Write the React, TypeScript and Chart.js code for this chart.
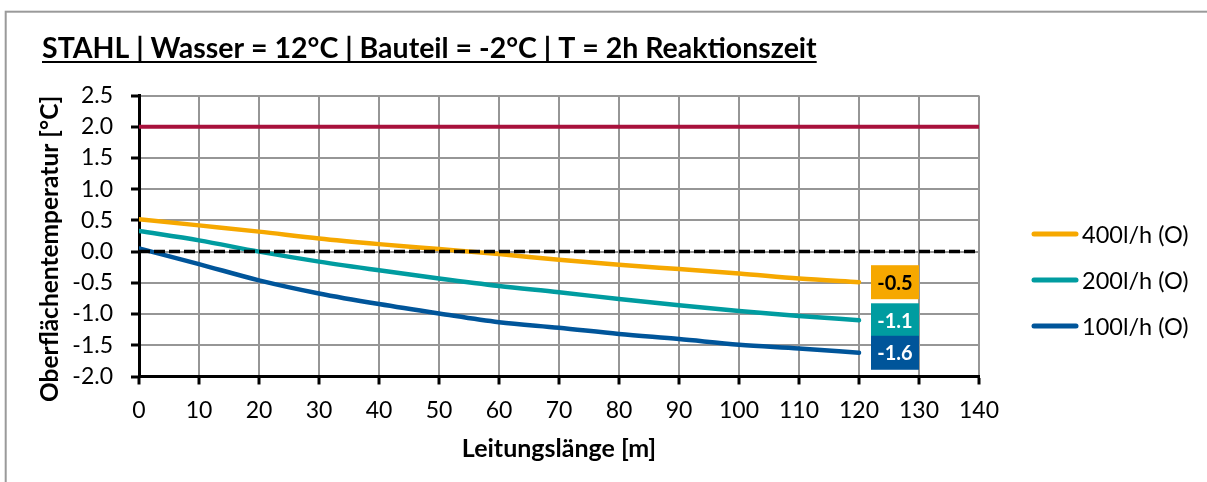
import { useEffect, useRef } from "react";
import { Chart, registerables } from "chart.js";

Chart.register(...registerables);

// ---- data ----
const lengths = [0, 10, 20, 30, 40, 50, 60, 70, 80, 90, 100, 110, 120];
const flow400 = [0.52, 0.42, 0.32, 0.21, 0.12, 0.04, -0.04, -0.13, -0.21, -0.28, -0.35, -0.43, -0.49];
const flow200 = [0.33, 0.18, 0.0, -0.16, -0.3, -0.43, -0.55, -0.65, -0.76, -0.86, -0.95, -1.03, -1.1];
const flow100 = [0.05, -0.2, -0.46, -0.67, -0.84, -0.99, -1.13, -1.22, -1.32, -1.4, -1.49, -1.55, -1.62];
const seriesNames = ["400l/h (O)", "200l/h (O)", "100l/h (O)"];
const limitX = [0, 140];
const limitY = [2.0, 2.0];
const zeroY = [0, 0];
const xMin = 0;
const xMax = 140;
const xStep = 10;
const yMin = -2.0;
const yMax = 2.5;
const yStep = 0.5;
const titleText = "STAHL | Wasser = 12°C | Bauteil = -2°C | T = 2h Reaktionszeit";
const xTitle = "Leitungslänge [m]";
const yTitle = "Oberflächentemperatur [°C]";

// ---- styles ----
const ORANGE = "#F6A800";
const TEAL = "#009CA0";
const BLUE = "#00559A";
const RED = "#A8113C";
const GRID = "#969696";
const FONT = "Lato";
const seriesColors = [ORANGE, TEAL, BLUE];
const labelTextColors = ["#000000", "#FFFFFF", "#FFFFFF"];

const pts = (xs: number[], ys: number[]) => xs.map((x, i) => ({ x, y: ys[i] }));

const decorPlugin = {
  id: "decor",
  beforeDraw(chart: any) {
    const ctx = chart.ctx;
    ctx.save();
    ctx.strokeStyle = "#9a9a9a";
    ctx.lineWidth = 2;
    ctx.strokeRect(5.7, 11.7, 3000, 3000);
    ctx.restore();
  },
  afterDraw(chart: any) {
    const ctx = chart.ctx;
    ctx.save();
    // title
    ctx.fillStyle = "#000";
    ctx.font = `bold 28.5px ${FONT}`;
    ctx.textAlign = "left";
    ctx.textBaseline = "alphabetic";
    ctx.fillText(titleText, 42, 58);
    const w = ctx.measureText(titleText).width;
    ctx.fillRect(42, 61, w, 2);

    // y axis title
    ctx.save();
    ctx.translate(50, 249);
    ctx.rotate(-Math.PI / 2);
    ctx.font = `bold 24.5px ${FONT}`;
    ctx.textAlign = "center";
    ctx.textBaseline = "middle";
    ctx.fillText(yTitle, 0, 0);
    ctx.restore();

    // legend
    ctx.font = `23.5px ${FONT}`;
    ctx.textAlign = "left";
    ctx.textBaseline = "middle";
    seriesNames.forEach((name, i) => {
      const y = 234 + i * 46;
      ctx.strokeStyle = seriesColors[i];
      ctx.lineWidth = 5;
      ctx.lineCap = "round";
      ctx.beginPath();
      ctx.moveTo(1034, y);
      ctx.lineTo(1076, y);
      ctx.stroke();
      ctx.fillStyle = "#000";
      ctx.fillText(name, 1082, y + 1);
    });

    // end-value labels
    ctx.font = `bold 20px ${FONT}`;
    ctx.textAlign = "center";
    ctx.textBaseline = "middle";
    chart.data.datasets.forEach((ds: any, di: number) => {
      if (ds.seriesIndex === undefined) return;
      const meta = chart.getDatasetMeta(di);
      const last = meta.data[meta.data.length - 1];
      const val = ds.data[ds.data.length - 1].y;
      const bx = last.x + 12;
      const by = last.y - 17;
      ctx.fillStyle = seriesColors[ds.seriesIndex];
      ctx.fillRect(bx, by, 48, 34);
      ctx.fillStyle = labelTextColors[ds.seriesIndex];
      ctx.fillText(val.toFixed(1), bx + 24, by + 18);
    });
    ctx.restore();
  },
};

export default function App() {
  const canvasRef = useRef<HTMLCanvasElement | null>(null);

  useEffect(() => {
    if (!canvasRef.current) return;
    Chart.defaults.font.family = FONT;
    Chart.defaults.color = "#000";
    const seriesData = [flow400, flow200, flow100];
    const chart = new Chart(canvasRef.current, {
      type: "line",
      data: {
        datasets: [
          {
            label: "zero",
            data: pts(limitX, zeroY),
            borderColor: "#000",
            borderWidth: 3.5,
            borderDash: [11, 4],
            pointRadius: 0,
          } as any,
          ...seriesData.map((ys, i) => ({
            label: seriesNames[i],
            seriesIndex: i,
            data: pts(lengths, ys),
            borderColor: seriesColors[i],
            borderWidth: 4.5,
            borderCapStyle: "round",
            pointRadius: 0,
            cubicInterpolationMode: "monotone",
          })),
          {
            label: "limit",
            data: pts(limitX, limitY),
            borderColor: RED,
            borderWidth: 4,
            pointRadius: 0,
          },
        ],
      },
      options: {
        animation: false,
        responsive: true,
        maintainAspectRatio: false,
        layout: { padding: { top: 95.5, left: 0, right: 228, bottom: 0 } },
        plugins: {
          legend: { display: false },
          tooltip: { enabled: false },
          title: { display: false },
        },
        scales: {
          x: {
            type: "linear",
            min: xMin,
            max: xMax,
            ticks: { stepSize: xStep, padding: 12, color: "#000", font: { size: 23 } },
            grid: { color: GRID, lineWidth: 2, tickColor: "#000", tickWidth: 3, tickLength: 8 },
            border: { color: "#000", width: 3 },
            title: {
              display: true,
              text: xTitle,
              color: "#000",
              font: { size: 25, weight: "bold" },
              padding: { top: 0, bottom: 18 },
            },
            afterFit: (s: any) => {
              s.height = 105.5;
            },
          },
          y: {
            type: "linear",
            min: yMin,
            max: yMax,
            ticks: {
              stepSize: yStep,
              padding: 18,
              color: "#000",
              font: { size: 23 },
              callback: (v: any) => Number(v).toFixed(1),
            },
            grid: { color: GRID, lineWidth: 2, tickColor: "#000", tickWidth: 3, tickLength: 8 },
            border: { color: "#000", width: 3 },
            afterFit: (s: any) => {
              s.width = 139;
            },
          },
        },
      } as any,
      plugins: [decorPlugin],
    });
    return () => chart.destroy();
  }, []);

  return (
    <div style={{ position: "absolute", left: 0, top: 0, width: 1207, height: 482, background: "#fff" }}>
      <canvas ref={canvasRef} />
    </div>
  );
}
